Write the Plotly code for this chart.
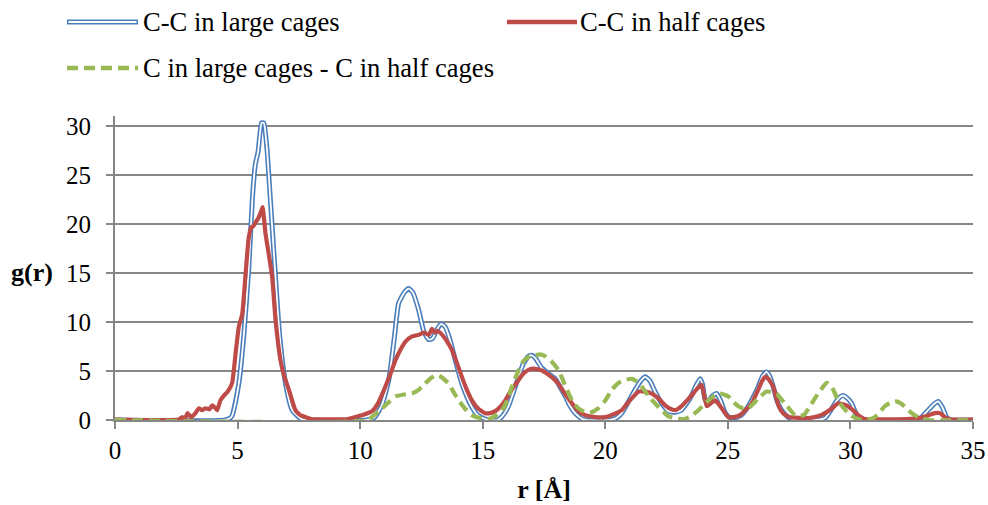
import plotly.graph_objects as go

# ---- data ----
r_large = [0, 4.5, 4.75, 5.05, 5.26, 5.46, 5.6, 5.72, 5.84, 5.98, 6.07, 6.2, 6.34, 6.52, 6.71, 6.96, 7.23, 7.6, 7.9,
           10.3, 10.6, 10.9, 11.17, 11.4, 11.57, 11.8, 11.98, 12.15, 12.39, 12.6, 12.8, 12.95, 13.15, 13.3, 13.47, 13.65,
           13.81, 14.0, 14.15, 14.35, 14.56, 14.8, 15.1, 15.3, 15.6, 15.8, 16.05, 16.25, 16.46, 16.65, 16.87, 17.0, 17.15,
           17.41, 17.7, 17.96, 18.15, 18.37, 18.57, 18.77, 19.0, 19.2, 20.2, 20.45, 20.67, 20.95, 21.22, 21.45, 21.63,
           21.82, 22.03, 22.3, 22.57, 22.85, 23.1, 23.35, 23.52, 23.7, 23.87, 23.97, 24.07, 24.2, 24.35, 24.54, 24.7,
           24.88, 25.05, 25.29, 25.55, 25.83, 26.05, 26.24, 26.42, 26.58, 26.72, 26.85, 27.0, 27.19, 27.45, 27.7, 28.6,
           28.96, 29.15, 29.37, 29.55, 29.7, 29.88, 30.05, 30.2, 30.32, 30.6, 32.76, 32.95, 33.17, 33.4, 33.58, 33.75,
           33.92, 34.1, 35]
g_large = [0, 0, 0.3, 3.7, 8.8, 15.6, 22.4, 26.0, 27.4, 30.3, 30.3, 27.6, 22.4, 15.6, 8.8, 3.7, 1.0, 0.1, 0,
           0, 0.3, 1.6, 4.1, 8.5, 11.9, 13.0, 13.4, 13.0, 11.2, 9.0, 8.2, 8.3, 9.3, 9.8, 9.5, 8.3,
           6.8, 5.0, 3.7, 2.4, 1.3, 0.5, 0.1, 0, 0, 0.4, 1.4, 2.8, 4.4, 5.7, 6.5, 6.6, 6.3,
           5.3, 4.7, 4.2, 3.4, 2.4, 1.4, 0.7, 0.2, 0, 0, 0.2, 0.7, 1.9, 3.1, 4.0, 4.4,
           4.0, 2.9, 1.7, 0.9, 0.8, 1.0, 1.8, 2.5, 3.5, 4.2, 3.6, 2.1, 1.9, 2.4, 2.7, 2.0,
           0.8, 0.3, 0.2, 0.5, 1.4, 2.4, 3.4, 4.5, 4.9, 4.4, 3.4, 2.0, 1.0, 0.3, 0.1, 0,
           0.2, 0.8, 1.7, 2.3, 2.5, 2.2, 1.7, 0.8, 0.3, 0, 0, 0.4, 1.0, 1.6, 1.9, 1.3,
           0.3, 0, 0]

r_half = [0, 2.6, 2.74, 2.85, 2.96, 3.1, 3.25, 3.42, 3.55, 3.7, 3.85, 3.97, 4.1, 4.17, 4.3, 4.45, 4.6, 4.78, 4.92,
          5.05, 5.19, 5.33, 5.45, 5.55, 5.65, 5.75, 5.85, 5.95, 6.02, 6.08, 6.14, 6.28, 6.41, 6.55, 6.75, 6.9, 7.09,
          7.25, 7.36, 7.55, 7.77, 8.0, 9.5, 9.8, 10.1, 10.49, 10.75, 11.03, 11.25, 11.44, 11.65, 11.85, 12.1, 12.39,
          12.6, 12.8, 12.93, 13.05, 13.15, 13.34, 13.55, 13.75, 13.95, 14.15, 14.35, 14.56, 14.8, 15.1, 15.3, 15.51,
          15.7, 15.92, 16.1, 16.33, 16.55, 16.74, 16.95, 17.2, 17.45, 17.69, 17.9, 18.09, 18.35, 18.64, 18.9, 19.18,
          19.6, 20.0, 20.35, 20.67, 20.9, 21.08, 21.35, 21.6, 21.9, 22.17, 22.44, 22.7, 22.85, 23.1, 23.3, 23.52,
          23.75, 23.93, 24.05, 24.14, 24.3, 24.48, 24.6, 24.75, 25.02, 25.25, 25.5, 25.75, 25.97, 26.24, 26.4, 26.52,
          26.65, 26.85, 27.06, 27.25, 27.5, 28.3, 28.7, 28.96, 29.25, 29.5, 29.7, 29.9, 30.1, 30.32, 30.6, 32.3, 32.8,
          33.1, 33.44, 33.65, 33.85, 34.1, 35]
g_half = [0.05, 0.05, 0.3, 0.1, 0.7, 0.3, 0.6, 1.2, 1.0, 1.2, 1.1, 1.5, 1.2, 1.0, 2.0, 2.5, 2.9, 3.8, 6.8,
          9.5, 10.8, 15.0, 18.5, 19.6, 19.8, 20.2, 20.6, 21.2, 21.7, 20.5, 19.0, 16.8, 14.6, 10.2, 6.1, 4.5, 3.1,
          1.8, 1.0, 0.5, 0.3, 0.1, 0.1, 0.3, 0.5, 0.9, 1.8, 3.4, 4.8, 6.1, 7.2, 8.0, 8.5, 8.7,
          8.9, 8.7, 9.3, 8.9, 9.1, 8.7, 8.0, 7.1, 5.8, 4.4, 3.1, 2.0, 1.2, 0.7, 0.7, 0.9,
          1.3, 2.0, 2.8, 3.6, 4.4, 4.9, 5.2, 5.2, 5.0, 4.6, 4.2, 3.7, 2.7, 1.7, 0.9, 0.5,
          0.3, 0.3, 0.6, 1.0, 1.7, 2.2, 2.9, 2.9, 2.7, 2.2, 1.5, 1.1, 1.0, 1.4, 1.9, 2.5,
          3.2, 3.6, 2.3, 1.4, 1.7, 2.0, 1.7, 1.2, 0.3, 0.3, 0.5, 1.1, 1.7, 3.1, 4.0, 4.4,
          4.2, 3.4, 1.5, 0.7, 0.3, 0.2, 0.4, 0.7, 1.2, 1.7, 1.6, 1.4, 1.0, 0.5, 0.1, 0.1, 0.2,
          0.4, 0.7, 0.7, 0.3, 0.05, 0.05]

r_cross = [0, 10.3, 10.62, 10.9, 11.2, 11.44, 11.8, 12.11, 12.35, 12.52, 12.85, 13.1, 13.3, 13.61, 13.8, 14.02, 14.3,
           14.56, 14.9, 15.24, 15.5, 15.78, 16.0, 16.19, 16.4, 16.6, 16.85, 17.14, 17.35, 17.55, 17.8, 18.09, 18.35,
           18.64, 18.9, 19.18, 19.45, 19.72, 20.0, 20.27, 20.55, 20.81, 21.08, 21.3, 21.49, 21.75, 22.03, 22.3, 22.57,
           22.9, 23.24, 23.5, 23.8, 24.0, 24.21, 24.45, 24.68, 25.02, 25.25, 25.43, 25.63, 25.83, 26.05, 26.24, 26.58,
           26.85, 26.99, 27.15, 27.33, 27.55, 27.74, 28.1, 28.3, 28.55, 28.8, 29.03, 29.23, 29.35, 29.5, 29.7, 29.91,
           30.2, 30.5, 30.75, 31.0, 31.2, 31.4, 31.65, 31.88, 32.05, 32.29, 32.5, 32.76, 33.2, 35]
g_cross = [0, 0, 0.6, 1.2, 1.9, 2.4, 2.6, 2.7, 3.0, 3.4, 4.2, 4.6, 4.4, 3.7, 2.9, 2.0, 1.1,
           0.5, 0.2, 0.1, 0.4, 1.0, 2.0, 3.4, 4.7, 5.8, 6.4, 6.6, 6.7, 6.5, 6.0, 5.1, 3.6,
           2.0, 1.2, 0.8, 0.8, 1.2, 2.0, 3.1, 3.8, 4.1, 4.2, 3.9, 3.4, 2.5, 1.7, 1.0, 0.4,
           0.15, 0.1, 0.4, 1.0, 1.5, 2.0, 2.5, 2.7, 2.4, 1.8, 1.4, 1.2, 1.2, 1.7, 2.2, 2.9,
           2.8, 2.7, 2.2, 1.7, 1.0, 0.5, 0.5, 1.2, 2.2, 3.1, 3.8, 3.4, 2.8, 2.0, 1.3, 0.7,
           0.2, 0, 0.05, 0.3, 0.8, 1.4, 1.8, 1.9, 1.7, 1.2, 0.7, 0.3, 0, 0]

series_names = ["C-C in large cages", "C-C in half cages", "C in large cages - C in half cages"]
x_ticks = [0, 5, 10, 15, 20, 25, 30, 35]
y_ticks = [0, 5, 10, 15, 20, 25, 30]

BLUE = "#4A7EBB"
RED = "#BE4B48"
GREEN = "#98B954"
GRID = "#868686"
FONT = "Liberation Serif, Tinos, Times New Roman, DejaVu Serif, serif"
LEG_SIZE = 26.6

fig = go.Figure()
fig.add_trace(go.Scatter(x=r_large, y=g_large, mode="lines", name=series_names[0], showlegend=False,
                         line=dict(color=BLUE, width=5, shape="spline", smoothing=0.5), hoverinfo="skip"))
fig.add_trace(go.Scatter(x=r_large, y=g_large, mode="lines", name=series_names[0], showlegend=False,
                         line=dict(color="white", width=1.8, shape="spline", smoothing=0.5)))
fig.add_trace(go.Scatter(x=r_half, y=g_half, mode="lines", name=series_names[1], showlegend=False,
                         line=dict(color=RED, width=4.2, shape="spline", smoothing=0.4)))
fig.add_trace(go.Scatter(x=r_cross, y=g_cross, mode="lines", name=series_names[2], showlegend=False,
                         line=dict(color=GREEN, width=4.2, dash="11px,6px", shape="spline", smoothing=0.5)))

# ---- manual legend (paper coordinates) ----
L, R_, T, B = 115, 973, 116, 420
def px(x):
    return (x - L) / (R_ - L)
def py(y):
    return (B - y) / (B - T)

shapes = [
    dict(type="line", xref="paper", yref="paper", x0=px(67), x1=px(138), y0=py(22), y1=py(22),
         line=dict(color=BLUE, width=5)),
    dict(type="line", xref="paper", yref="paper", x0=px(68.5), x1=px(136.5), y0=py(22), y1=py(22),
         line=dict(color="white", width=1.8)),
    dict(type="line", xref="paper", yref="paper", x0=px(507), x1=px(577), y0=py(22), y1=py(22),
         line=dict(color=RED, width=4.5)),
    dict(type="line", xref="paper", yref="paper", x0=px(67), x1=px(138), y0=py(68), y1=py(68),
         line=dict(color=GREEN, width=4.5, dash="11px,6px")),
]
annotations = [
    dict(text=series_names[0], xref="paper", yref="paper", x=px(141), y=py(22), xanchor="left", yanchor="middle",
         showarrow=False, font=dict(family=FONT, size=LEG_SIZE, color="black")),
    dict(text=series_names[1], xref="paper", yref="paper", x=px(578), y=py(22), xanchor="left", yanchor="middle",
         showarrow=False, font=dict(family=FONT, size=LEG_SIZE, color="black")),
    dict(text=series_names[2], xref="paper", yref="paper", x=px(141), y=py(68), xanchor="left", yanchor="middle",
         showarrow=False, font=dict(family=FONT, size=LEG_SIZE, color="black")),
    dict(text="<b>g(r)</b>", xref="paper", yref="paper", x=px(32), y=py(272), xanchor="center", yanchor="middle",
         showarrow=False, font=dict(family=FONT, size=26, color="black")),
]

fig.update_layout(
    width=988, height=505,
    margin=dict(l=L, r=988 - R_, t=T, b=505 - B, autoexpand=False),
    paper_bgcolor="white", plot_bgcolor="white",
    font=dict(family=FONT, size=25, color="black"),
    shapes=shapes, annotations=annotations,
    showlegend=False,
)
fig.update_xaxes(range=[0, 35], tickvals=x_ticks, ticktext=[str(v) for v in x_ticks],
                 showgrid=False, zeroline=False, showline=True, linecolor=GRID, linewidth=2,
                 ticks="outside", ticklen=7, tickwidth=2, tickcolor=GRID, automargin=False,
                 tickfont=dict(family=FONT, size=25, color="black"),
                 title=dict(text="<b>r [Å]</b>", font=dict(family=FONT, size=26, color="black"), standoff=17))
fig.update_yaxes(range=[0, 31], tickvals=y_ticks, ticktext=[str(v) for v in y_ticks],
                 showgrid=True, gridcolor=GRID, gridwidth=2, zeroline=False, automargin=False,
                 showline=True, linecolor=GRID, linewidth=2,
                 ticks="outside", ticklen=7, tickwidth=2, tickcolor=GRID, ticklabelstandoff=10,
                 tickfont=dict(family=FONT, size=25, color="black"))

fig.write_html("out.html")
